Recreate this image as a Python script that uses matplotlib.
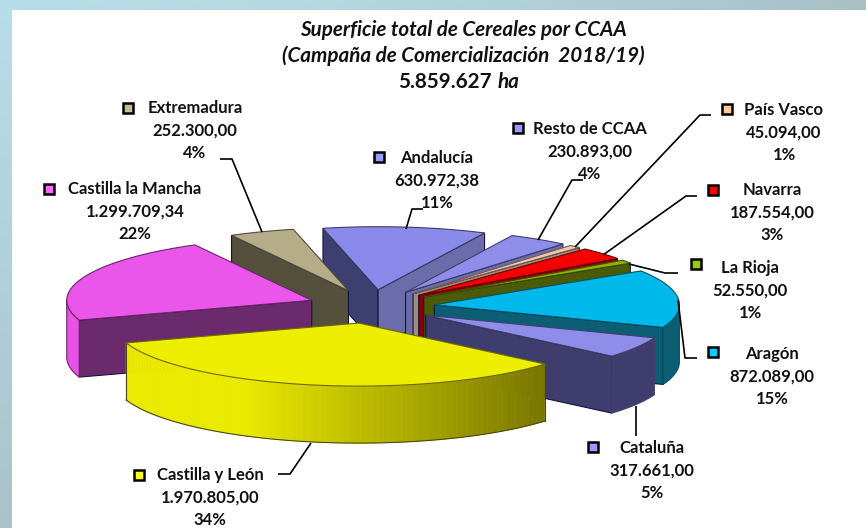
"""
Superficie total de Cereales por CCAA, exploded 3D style pie.
"""

import numpy as np
import matplotlib
matplotlib.use("Agg")
import matplotlib.pyplot as plt
from matplotlib.patches import Polygon, Rectangle
from matplotlib.colors import to_rgb

# Data, clockwise from the Andalucia slice
regions = ['Andalucía', 'Resto de CCAA', 'País Vasco', 'Navarra', 'La Rioja',
           'Aragón', 'Cataluña', 'Castilla y León', 'Castilla la Mancha', 'Extremadura']
areas = [630972.38, 230893.00, 45094.00, 187554.00, 52550.00,
         872089.00, 317661.00, 1970805.00, 1299709.34, 252300.00]
top_colors = ['#8a8aea', '#8e8eea', '#f6c8aa', '#f40000', '#8cb400',
              '#00b8ea', '#8e8eea', '#eeee00', '#ea55ea', '#b5ad88']
key_colors = ['#9999ff', '#9999ff', '#ffcc99', '#ff0000', '#99cc00',
              '#00ccff', '#9999ff', '#ffff00', '#ff66ff', '#c4bd97']
start_wall_colors = ['#3d3f70', '#6b6dab', '#8f7a6a', '#8b0000', '#4a5a05',
                     '#0b5e73', '#3f3d6e', '#8a8600', '#6b2a6b', '#55503c']
end_wall_colors = ['#6b6dab', '#6b6dab', '#a08c7a', '#8b0000', '#4a5a05',
                   '#0b5e73', '#3f3d6e', '#8a8600', '#6b2a6b', '#55503c']
arc_colors = ['#6b6dab', '#6b6dab', '#a08c7a', '#8b0000', '#4a5a05',
              '#0b5e73', '#3f3d6e', None, '#e653e6', '#55503c']
title_lines = ['Superficie total de Cereales por CCAA',
               '(Campaña de Comercialización  2018/19)']
total_text = '5.859.627'
total_unit = 'ha'

# Geometry of the pie, in pixels
CX, CY = 371, 306.5
RX, RY = 245, 63
EXPLODE = 0.26
DEPTH = 57
START = -13

# text centre x, first line y, key square centre, leader line
label_x = [437, 590, 784, 772, 750, 772, 652, 210, 135, 195]
label_y = [158, 129, 110, 190, 268, 354, 448, 475, 189, 108]
key_pos = [(379, 157), (518, 128), (727, 109), (713, 190), (696, 264),
           (713, 352), (593, 447), (139, 475), (49, 189), (128, 108)]
leaders = [[(406, 229), (412, 209), (423, 209)],
           [(538, 240), (572, 180), (583, 180)],
           [(575, 247), (700, 115), (711, 115)],
           [(603, 255), (686, 196), (697, 196)],
           [(629, 264), (665, 273), (678, 273)],
           [(678, 300), (685, 358), (697, 358)],
           [(636, 406), (636, 436)],
           [(311, 443), (290, 474), (278, 474)],
           None,
           [(262, 232), (232, 159), (220, 159)]]

plt.rcParams['font.family'] = ['Lato', 'DejaVu Sans']

fig = plt.figure(figsize=(8.66, 5.28), dpi=100)
ax = fig.add_axes([0, 0, 1, 1])
ax.set_xlim(0, 866)
ax.set_ylim(528, 0)
ax.axis('off')

# Background gradient and white panel
xx, yy = np.meshgrid(np.linspace(0, 1, 200), np.linspace(0, 1, 200))
g = np.clip(0.62 * xx ** 1.6 + 0.55 * yy, 0, 1)[..., None]
bg = (1 - g) * np.array(to_rgb('#b8dee9')) + g * np.array(to_rgb('#9fadb0'))
ax.imshow(bg, extent=(0, 866, 528, 0), aspect='auto', zorder=0)
ax.add_patch(Rectangle((12, 10), 854, 518, facecolor='white', edgecolor='none', zorder=1))


def point(apex, phi):
    a = np.radians(phi)
    return apex[0] + RX * np.sin(a), apex[1] - RY * np.cos(a)


# Slices: angles come from the areas
total = sum(areas)
edges = START + np.cumsum([0] + areas) / total * 360
slices = []
for i in range(len(areas)):
    mid = np.radians((edges[i] + edges[i + 1]) / 2)
    apex = (CX + EXPLODE * RX * np.sin(mid), CY - EXPLODE * 65 * np.cos(mid))
    slices.append((i, edges[i], edges[i + 1], apex, np.cos(mid)))

z = 2
for i, p0, p1, apex, depth_key in sorted(slices, key=lambda s: -s[4]):
    line = tuple(c * 0.45 for c in to_rgb(top_colors[i]))
    # radial walls facing the viewer
    for phi, col, visible in [(p0, start_wall_colors[i], np.sin(np.radians(p0)) < 0),
                              (p1, end_wall_colors[i], np.sin(np.radians(p1)) > 0)]:
        if visible:
            x, y = point(apex, phi)
            wall = [apex, (x, y), (x, y + DEPTH), (apex[0], apex[1] + DEPTH)]
            ax.add_patch(Polygon(wall, closed=True, facecolor=col, edgecolor='#14143c',
                                 linewidth=0.8, zorder=z))
            z += 1
    # outer rim, front half only
    a0, a1 = max(p0, 90), min(p1, 270)
    if a1 > a0:
        phis = np.linspace(a0, a1, 90)
        px, py = point(apex, phis)
        if arc_colors[i] is None:
            # shaded rim: olive on the right, bright on the left
            for k in range(len(phis) - 1):
                t = np.clip((px[k] - 245) / (546 - 245), 0, 1)
                col = (1 - t) * np.array(to_rgb('#eaea00')) + t * np.array(to_rgb('#7a7600'))
                quad = [(px[k], py[k]), (px[k + 1], py[k + 1]),
                        (px[k + 1], py[k + 1] + DEPTH), (px[k], py[k] + DEPTH)]
                ax.add_patch(Polygon(quad, closed=True, facecolor=col, edgecolor=col,
                                     linewidth=0.5, zorder=z))
            ax.plot(px, py + DEPTH, color='#4a4a10', linewidth=0.8, zorder=z + 1)
            ax.plot([px[0], px[0]], [py[0], py[0] + DEPTH], color='#4a4a10', linewidth=0.8, zorder=z + 1)
            ax.plot([px[-1], px[-1]], [py[-1], py[-1] + DEPTH], color='#4a4a10', linewidth=0.8, zorder=z + 1)
        else:
            rim = list(zip(px, py)) + list(zip(px[::-1], py[::-1] + DEPTH))
            ax.add_patch(Polygon(rim, closed=True, facecolor=arc_colors[i], edgecolor=line,
                                 linewidth=0.8, zorder=z))
        z += 2
    # top face
    phis = np.linspace(p0, p1, 120)
    px, py = point(apex, phis)
    top = [apex] + list(zip(px, py))
    ax.add_patch(Polygon(top, closed=True, facecolor=top_colors[i], edgecolor=line,
                         linewidth=0.8, zorder=z))
    z += 1

# Leader lines
for pts in leaders:
    if pts:
        lx, ly = zip(*pts)
        ax.plot(lx, ly, color='black', linewidth=1.2, zorder=z, solid_capstyle='butt')

# Labels with their key squares
for i, name in enumerate(regions):
    value = f'{areas[i]:,.2f}'.replace(',', '_').replace('.', ',').replace('_', '.')
    pct = f'{areas[i] / total * 100:.0f}%'
    for j, txt in enumerate([name, value, pct]):
        ax.text(label_x[i], label_y[i] + j * 22.7, txt, ha='center', va='center',
                fontsize=12.0, fontweight='bold', color='#111111', zorder=z + 1)
    kx, ky = key_pos[i]
    ax.add_patch(Rectangle((kx - 5, ky - 5), 10, 10, facecolor=key_colors[i],
                           edgecolor='black', linewidth=1.8, zorder=z + 1))

# Title
for j, txt in enumerate(title_lines):
    ax.text(463, 30 + j * 26, txt, ha='center', va='center', fontsize=14.9,
            fontweight='bold', fontstyle='italic', color='#111111', zorder=z + 1)
ax.text(492, 82, total_text, ha='right', va='center', fontsize=14.9,
        fontweight='bold', color='#111111', zorder=z + 1)
ax.text(498, 82, total_unit, ha='left', va='center', fontsize=14.9,
        fontweight='bold', fontstyle='italic', color='#111111', zorder=z + 1)

fig.savefig('out.png', dpi=100)
